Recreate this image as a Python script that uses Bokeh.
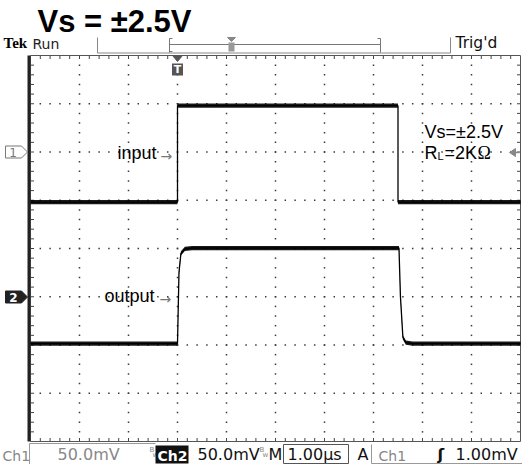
import numpy as np
from bokeh.plotting import figure
from bokeh.models import Range1d
from bokeh.core.properties import value
from bokeh.embed import file_html
from bokeh.resources import INLINE

# ---------------- data read from the scope screen ----------------
# horizontal: 1.00 us/div, vertical: 50.0 mV/div (both channels)
input_time_us = [0.0, 3.0, 3.0, 7.5, 7.5, 10.0]
input_mv = [-52.0, -52.0, 48.0, 48.0, -52.0, -52.0]
output_time_us = [0.0, 3.0, 3.03, 3.07, 3.15, 3.3, 7.52, 7.55, 7.6, 7.66, 7.8, 10.0]
output_mv = [-48.5, -48.5, 25.0, 45.0, 49.5, 50.5, 50.5, 0.0, -42.0, -47.5, -48.5, -48.5]
noise_mv = 2.2
volts_per_div_mv = 50.0
time_per_div_us = 1.0
ch1_ground_div = 2   # divisions above centre
ch2_ground_div = -1

# ---------------- layout (screen pixel coordinates) ----------------
W, H = 522, 464
X_LO, X_HI = 0.0, float(W)
Y_TOP, Y_BOT = 0.0, float(H)
GX0, GDX = 30.0, 49.0     # grid left / px per div
GY0, GDY = 55.0, 48.25    # grid top / px per div
GX1 = GX0 + 10 * GDX
GY1 = GY0 + 8 * GDY
GYC = GY0 + 4 * GDY

p = figure(width=W, height=H, output_backend="svg", toolbar_location=None,
           x_range=Range1d(X_LO, X_HI), y_range=Range1d(Y_BOT, Y_TOP),
           x_axis_type=None, y_axis_type=None, min_border=0)
p.outline_line_color = None
p.background_fill_color = "white"
p.border_fill_color = "white"
p.xgrid.visible = False
p.ygrid.visible = False

# scope scales
p.extra_x_ranges = {"t": Range1d((X_LO - GX0) / GDX * time_per_div_us,
                                 (X_HI - GX0) / GDX * time_per_div_us)}
mvpp = volts_per_div_mv / GDY
g1 = GYC - ch1_ground_div * GDY
g2 = GYC - ch2_ground_div * GDY
p.extra_y_ranges = {
    "ch1": Range1d((g1 - Y_BOT) * mvpp, (g1 - Y_TOP) * mvpp),
    "ch2": Range1d((g2 - Y_BOT) * mvpp, (g2 - Y_TOP) * mvpp),
}

def txt(x, base, s, size, color="black", font="DejaVu Sans", style="normal",
        align="left"):
    """place text whose baseline is at `base` (uses the em-box centre)"""
    p.text(x=[x], y=[base - 0.35 * size], text=[s], text_font=value(font),
           text_font_size=f"{size}px", text_color=color,
           text_font_style=style, text_align=align, text_baseline="middle")

# ---------------- graticule ----------------
dx, dy = [], []
for i in range(1, 10):
    for k in range(1, 40):
        dx.append(GX0 + i * GDX)
        dy.append(GY0 + k * GDY / 5)
for j in range(1, 8):
    for k in range(1, 50):
        dx.append(GX0 + k * GDX / 5)
        dy.append(GY0 + j * GDY)
p.scatter(dx, dy, marker="square", size=1.5, color="#3a3a3a", line_color=None)

# border ticks
sx0, sy0, sx1, sy1 = [], [], [], []
for k in range(1, 40):
    y = GY0 + k * GDY / 5
    sx0 += [GX0, GX1 - 3.5]; sx1 += [GX0 + 3.5, GX1]; sy0 += [y, y]; sy1 += [y, y]
for k in range(1, 50):
    x = GX0 + k * GDX / 5
    sx0 += [x, x]; sx1 += [x, x]; sy0 += [GY0, GY1 - 3.5]; sy1 += [GY0 + 3.5, GY1]
p.segment(sx0, sy0, sx1, sy1, line_color="#444", line_width=1)

p.quad(left=[GX0], right=[GX1], top=[GY0], bottom=[GY1], fill_color=None,
       line_color="#555", line_width=1)
p.segment([GX0 - 1.5], [GY0], [GX0 - 1.5], [GY1], line_color="#222", line_width=3)

# ---------------- traces ----------------
inp_mv = np.array(input_mv)
out_mv = np.array(output_mv)
p.varea(x=input_time_us, y1=inp_mv - noise_mv, y2=inp_mv + noise_mv,
        x_range_name="t", y_range_name="ch1", fill_color="black", fill_alpha=0.9)
p.line(input_time_us, input_mv, x_range_name="t", y_range_name="ch1",
       line_color="black", line_width=1.3)
p.varea(x=output_time_us, y1=out_mv - noise_mv, y2=out_mv + noise_mv,
        x_range_name="t", y_range_name="ch2", fill_color="black", fill_alpha=0.9)
p.line(output_time_us, output_mv, x_range_name="t", y_range_name="ch2",
       line_color="black", line_width=1.3)

# ---------------- header ----------------
txt(37, 32, "Vs = \u00b12.5V", 31, font="Liberation Sans", style="bold")
txt(3, 48, "Tek", 15, font="Liberation Serif", style="bold")
txt(32, 48, "Run", 14, color="#222")
p.segment([97, 450, 97], [37, 37, 52.5], [97, 450, 450], [52.5, 52.5, 52.5],
          line_color="#888", line_width=1)
# record bracket
p.segment([169, 380, 169, 169, 377, 169], [38, 38, 44, 38, 38, 51],
          [169, 380, 380, 172, 380, 172], [52, 52, 44, 38, 38, 51],
          line_color="#777", line_width=1)
p.patch([227, 235, 231], [37, 37, 41], color="#888")
p.quad(left=[228], right=[234], top=[42], bottom=[51], fill_color="#999", line_color=None)
txt(455, 48, "Trig'd", 15.5, color="#111")

# trigger position marker
p.patch([172, 182, 177], [55, 55, 61], color="#555")
p.quad(left=[171.5], right=[182.5], top=[63], bottom=[75], fill_color="#555", line_color=None)
txt(177, 73, "T", 11, color="white", style="bold", align="center")

# channel markers
p.patch([5, 21, 27, 21, 5], [145.5, 145.5, 151.5, 157.5, 157.5],
        fill_color="white", line_color="#777", line_width=1)
txt(12.5, 156, "1", 12, color="#777", align="center")
p.patch([5, 21, 27, 21, 5], [290.5, 290.5, 296.5, 302.5, 302.5],
        fill_color="#222", line_color="#222", line_width=1)
txt(13, 301, "2", 12, color="white", style="bold", align="center")

# trigger level arrow on the right
p.patch([509, 515, 515], [152, 148, 156], color="#888")
p.segment([515], [152], [519], [152], line_color="#888", line_width=1.5)

# ---------------- annotations ----------------
txt(117, 159, "input", 18, font="Liberation Sans")
txt(160, 160, "\u2192", 14, color="#777")
txt(104, 302, "output", 18, font="Liberation Sans")
txt(159, 303, "\u2192", 14, color="#777")
txt(424, 138, "Vs=\u00b12.5V", 18, font="Liberation Sans")
txt(424, 159, "R", 18, font="Liberation Sans")
txt(437, 159, "L", 11, font="Liberation Sans")
txt(444, 159, "=2K", 18, font="Liberation Sans")
txt(477, 159, "\u03a9", 18, font="Liberation Serif")

# ---------------- status bar ----------------
BY = 460
txt(2, BY, "Ch1", 14, color="#888")
p.segment([29, 29], [443, 443], [29, 155], [464, 443], line_color="#999", line_width=1)
txt(57, BY, "50.0mV", 16, color="#888")
txt(149, 452, "B", 7, color="#888")
txt(152, 457, "w", 7, color="#888")
p.quad(left=[155], right=[188], top=[445], bottom=[463], fill_color="#111", line_color=None)
txt(157, BY, "Ch2", 14, color="white", style="bold")
txt(197, BY, "50.0mV", 16, color="#111")
txt(259, 452, "B", 7, color="#888")
txt(262, 457, "w", 7, color="#888")
txt(268, BY, "M", 16, color="#111")
p.quad(left=[283], right=[348], top=[444], bottom=[463], fill_color=None,
       line_color="#555", line_width=1)
txt(287, BY, "1.00\u00b5s", 16, color="#111")
txt(357, BY, "A", 16, color="#111")
p.segment([371, 371], [444, 463], [371, 522], [463, 463], line_color="#999", line_width=1)
txt(378, BY, "Ch1", 14, color="#888")
txt(437, BY, "\u0283", 16, color="#111", style="bold")
txt(455, BY, "1.00mV", 16, color="#111")

open("out.html", "w").write(file_html(p, INLINE))
